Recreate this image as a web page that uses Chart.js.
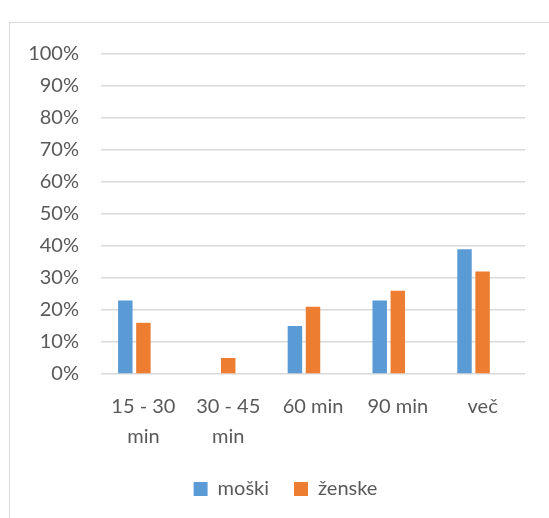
<!DOCTYPE html>
<html><head><meta charset="utf-8">
<script src="https://cdn.jsdelivr.net/npm/chart.js@4"></script>
<style>
html,body{margin:0;padding:0;background:#fff;}
#wrap{position:relative;width:549px;height:518px;overflow:hidden;}
#frame{position:absolute;left:9px;top:22px;width:600px;height:600px;border:1.5px solid #d9d9d9;box-sizing:border-box;}
canvas{position:absolute;left:0;top:0;}
</style></head><body>
<div id="wrap"><div id="frame"></div><canvas id="c" width="549" height="518"></canvas></div>
<script>
const categories = [['15 - 30','min'], ['30 - 45','min'], '60 min', '90 min', 'več'];
const seriesNames = ['moški', 'ženske', ''];
const moski = [23, 0, 15, 23, 39];
const zenske = [16, 5, 21, 26, 32];
const emptySeries = [null, null, null, null, null]; // empty third series (as in source chart), not shown in legend
const yMin = 0, yMax = 100, yStep = 10;

const FONT = 'Lato, "Open Sans", sans-serif';
const GRAY = '#595959';
const CP = 0.64, BP = 0.8;

// the reference legend sits slightly right of centre
const legendShift = {
  id: 'legendShift',
  afterLayout(chart) {
    const l = chart.legend;
    if (l) { l.left += 18; l.right += 18; }
  }
};

new Chart(document.getElementById('c'), {
  type: 'bar',
  data: {
    labels: categories,
    datasets: [
      { label: seriesNames[0], data: moski, backgroundColor: '#5b9bd5', categoryPercentage: CP, barPercentage: BP },
      { label: seriesNames[1], data: zenske, backgroundColor: '#ed7d31', categoryPercentage: CP, barPercentage: BP },
      { label: seriesNames[2], data: emptySeries, backgroundColor: '#a5a5a5', categoryPercentage: CP, barPercentage: BP }
    ]
  },
  plugins: [legendShift],
  options: {
    responsive: false,
    animation: false,
    devicePixelRatio: 1,
    layout: { padding: { left: 10, top: 54, right: 24, bottom: 9 } },
    plugins: {
      tooltip: { enabled: false },
      legend: {
        position: 'bottom',
        labels: {
          boxWidth: 14, boxHeight: 14, padding: 25,
          color: GRAY, font: { family: FONT, size: 20 },
          filter: (item) => item.text !== ''
        }
      }
    },
    scales: {
      x: {
        grid: { display: false, drawTicks: false },
        border: { display: false },
        ticks: { color: GRAY, font: { family: FONT, size: 20, lineHeight: 1.5 }, padding: 18, maxRotation: 0, autoSkip: false },
        afterFit: (s) => { s.height = 80; }
      },
      y: {
        min: yMin, max: yMax,
        grid: { color: '#d9d9d9', lineWidth: 1.5, drawTicks: false },
        border: { display: false },
        ticks: { stepSize: yStep, color: GRAY, font: { family: FONT, size: 20 }, padding: 22, callback: v => v + '%' },
        afterFit: (s) => { s.width = 91; }
      }
    }
  }
});
</script>
</body></html>
